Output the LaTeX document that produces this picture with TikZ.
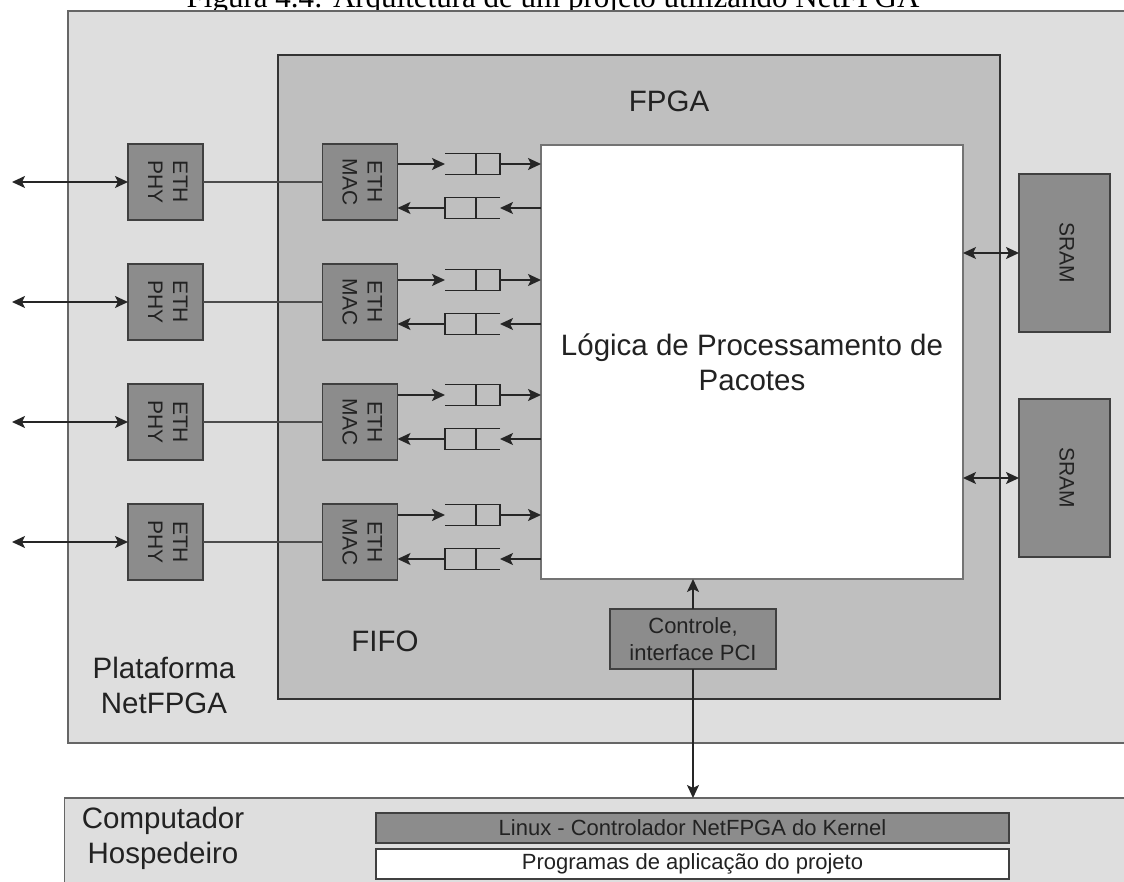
\documentclass[tikz,border=0pt]{standalone}
\usepackage{graphicx}
\usepackage{fontspec}
\setmainfont{Liberation Serif}
\setsansfont{Liberation Sans}
\usetikzlibrary{arrows.meta}

\definecolor{platgray}{HTML}{DEDEDE}
\definecolor{fpgagray}{HTML}{BFBFBF}
\definecolor{chipgray}{HTML}{8C8C8C}
\definecolor{ink}{HTML}{222222}

\newcommand{\bigtxt}{\sffamily\fontsize{29.5}{35}\selectfont}
\newcommand{\midtxt}{\sffamily\fontsize{22}{27}\selectfont}
\newcommand{\vtxt}[1]{\rotatebox{-90}{\fontsize{21}{25}\selectfont\begin{tabular}{@{}c@{}}#1\end{tabular}}}

\begin{document}
\begin{tikzpicture}[x=1pt, y=-1pt, >={Stealth[length=13pt,width=12pt,inset=3pt]},
                    every node/.style={inner sep=0pt, outer sep=0pt, text=ink, font=\sffamily},
                    chip/.style={draw=black!75, line width=1.7pt, fill=chipgray},
                    queue/.style={minimum width=55pt, minimum height=21pt},
                    link/.style={line width=1.8pt, draw=black!85}]

\useasboundingbox (0,0) rectangle (1124,882);

\node[font=\rmfamily\fontsize{31}{31}\selectfont, text=black, anchor=base] (cap) at (553,8)
  {Figura 4.4: Arquitetura de um projeto utilizando NetFPGA};

% placa e fpga
\node[draw=black!60, line width=1.8pt, fill=platgray, anchor=north west,
      minimum width=1075pt, minimum height=732pt] (plat) at (68,10.7) {};
\node[draw=black!80, line width=2pt, fill=fpgagray, anchor=north west,
      minimum width=722pt, minimum height=644pt] (fpga) at (278,55) {};
\node[font=\bigtxt] (fpgalbl) at (669,101) {FPGA};
\node[font=\bigtxt] (fifolbl) at (385,641) {FIFO};
\node[font=\bigtxt, align=center] (platlbl) at (164,685.5) {Plataforma\\NetFPGA};

\node[draw=black!55, line width=2.2pt, fill=white, font=\bigtxt, align=center,
      minimum width=422pt, minimum height=434pt] (L) at (752,362)
  {Lógica de Processamento de\\Pacotes};

% portas
\foreach \i/\t/\u in {1/182/164, 2/302/280, 3/422/395, 4/542/515} {
  \node[chip, minimum width=75pt, minimum height=76pt] (phy\i) at (165.5,\t) {\vtxt{ETH\\PHY}};
  \node[chip, minimum width=75pt, minimum height=76pt] (mac\i) at (360,\t) {\vtxt{ETH\\MAC}};
  \coordinate (ext\i) at (12,\t);
  \draw[link, <->] (ext\i) -- (phy\i);
  \draw[link, draw=black!70, line width=1.9pt] (phy\i) -- (mac\i);
  \node[queue] (qi\i) at (472.5,\u) {};
  \node[queue] (qo\i) at (472.5,{\u+44}) {};
  \draw[link] (qi\i.north west) -- (qi\i.north east) -- (qi\i.south east) -- (qi\i.south west);
  \draw[link] ([xshift=3.5pt]qi\i.north) -- ([xshift=3.5pt]qi\i.south);
  \draw[link] (qo\i.north east) -- (qo\i.north west) -- (qo\i.south west) -- (qo\i.south east);
  \draw[link] ([xshift=3.5pt]qo\i.north) -- ([xshift=3.5pt]qo\i.south);
  \draw[link, ->] (mac\i.east |- qi\i.west) -- (qi\i.west);
  \draw[link, ->] (qi\i.east) -- (L.west |- qi\i.east);
  \draw[link, ->] (L.west |- qo\i.east) -- (qo\i.east);
  \draw[link, ->] (qo\i.west) -- (mac\i.east |- qo\i.west);
}

% memorias
\node[chip, minimum width=91pt, minimum height=158pt] (sram1) at (1064.5,253) {\vtxt{SRAM}};
\node[chip, minimum width=91pt, minimum height=158pt] (sram2) at (1064.5,478) {\vtxt{SRAM}};
\draw[link, <->] (L.east |- sram1) -- (sram1.west);
\draw[link, <->] (L.east |- sram2) -- (sram2.west);

% hospedeiro
\node[draw=black!60, line width=1.8pt, fill=platgray, anchor=north west,
      minimum width=1080pt, minimum height=120pt] (host) at (64.5,798) {};
\node[font=\bigtxt, align=center] (hostlbl) at (163,838) {Computador\\Hospedeiro};
\node[chip, font=\midtxt, minimum width=633pt, minimum height=30pt] (drv) at (692.5,828)
  {Linux - Controlador NetFPGA do Kernel};
\node[chip, fill=white, font=\midtxt, minimum width=633pt, minimum height=30pt] (app) at (692.5,864)
  {Programas de aplicação do projeto};

\node[chip, font=\midtxt, align=center, minimum width=166pt, minimum height=60pt] (pci) at (693,639)
  {Controle,\\interface PCI};
\draw[link, ->] (pci.north) -- (pci.north |- L.south);
\draw[link, ->] (pci.south) -- (pci.south |- host.north);
\end{tikzpicture}
\end{document}
